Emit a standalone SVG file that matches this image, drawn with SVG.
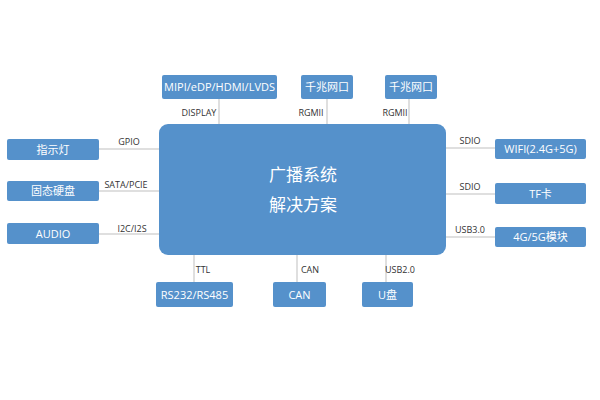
<svg xmlns="http://www.w3.org/2000/svg" width="600" height="400" viewBox="0 0 600 400">
<style>
.box{fill:#5591CB;}
.bt{font-family:"Open Sans","Noto Sans","Noto Sans CJK SC",sans-serif;font-size:11px;fill:#ffffff;text-anchor:middle;}
.lbl{font-family:"Open Sans","Noto Sans",sans-serif;font-size:9px;fill:#333333;text-anchor:middle;}
.ln{stroke:#d4d4d4;stroke-width:1.5;fill:none;}
.mt{font-family:"Noto Sans CJK SC",sans-serif;font-size:17px;fill:#ffffff;text-anchor:middle;}
</style>
<rect width="600" height="400" fill="#ffffff"/>
<g id="connectors">
<line class="ln" x1="219" y1="99" x2="219" y2="124"/>
<line class="ln" x1="327" y1="99" x2="327" y2="124"/>
<line class="ln" x1="409" y1="99" x2="409" y2="124"/>
<line class="ln" x1="99" y1="149" x2="159" y2="149"/>
<line class="ln" x1="99" y1="191" x2="159" y2="191"/>
<line class="ln" x1="99" y1="234" x2="159" y2="234"/>
<line class="ln" x1="446" y1="148" x2="495" y2="148"/>
<line class="ln" x1="446" y1="194" x2="495" y2="194"/>
<line class="ln" x1="446" y1="237" x2="495" y2="237"/>
<line class="ln" x1="194" y1="255" x2="194" y2="282"/>
<line class="ln" x1="297" y1="255" x2="297" y2="282"/>
<line class="ln" x1="386" y1="255" x2="386" y2="282"/>
<text class="lbl" x="199" y="116">DISPLAY</text>
<text class="lbl" x="311" y="116">RGMII</text>
<text class="lbl" x="395" y="116">RGMII</text>
<text class="lbl" x="129" y="145">GPIO</text>
<text class="lbl" x="126" y="188">SATA/PCIE</text>
<text class="lbl" x="132" y="232">I2C/I2S</text>
<text class="lbl" x="470" y="144">SDIO</text>
<text class="lbl" x="470" y="190">SDIO</text>
<text class="lbl" x="470" y="233">USB3.0</text>
<text class="lbl" x="203" y="273">TTL</text>
<text class="lbl" x="310" y="273">CAN</text>
<text class="lbl" x="400" y="273">USB2.0</text>
</g>
<g id="main">
<rect class="box" x="159" y="124" width="287" height="131" rx="9"/>
<text class="mt" x="303" y="181">广播系统</text>
<text class="mt" x="303" y="211">解决方案</text>
</g>
<g id="display"><rect class="box" x="162" y="75" width="115" height="24" rx="2"/><text class="bt" x="219.5" y="91">MIPI/eDP/HDMI/LVDS</text></g>
<g id="eth1"><rect class="box" x="301" y="75" width="52" height="24" rx="2"/><text class="bt" x="327" y="91">千兆网口</text></g>
<g id="eth2"><rect class="box" x="385" y="75" width="52" height="24" rx="2"/><text class="bt" x="411" y="91">千兆网口</text></g>
<g id="led"><rect class="box" x="7" y="139" width="92" height="21" rx="2"/><text class="bt" x="53" y="153.5">指示灯</text></g>
<g id="ssd"><rect class="box" x="7" y="181" width="92" height="20" rx="2"/><text class="bt" x="53" y="195">固态硬盘</text></g>
<g id="audio"><rect class="box" x="7" y="223" width="92" height="21" rx="2"/><text class="bt" x="53" y="237.5">AUDIO</text></g>
<g id="wifi"><rect class="box" x="495" y="139" width="91" height="20" rx="2"/><text class="bt" x="540.5" y="153">WIFI(2.4G+5G)</text></g>
<g id="tf"><rect class="box" x="495" y="183" width="91" height="21" rx="2"/><text class="bt" x="540.5" y="197.5">TF卡</text></g>
<g id="lte"><rect class="box" x="495" y="227" width="91" height="20" rx="2"/><text class="bt" x="540.5" y="241">4G/5G模块</text></g>
<g id="rs"><rect class="box" x="156" y="282" width="77" height="25" rx="2"/><text class="bt" x="194.5" y="298.5">RS232/RS485</text></g>
<g id="can"><rect class="box" x="273" y="282" width="53" height="25" rx="2"/><text class="bt" x="299.5" y="298.5">CAN</text></g>
<g id="udisk"><rect class="box" x="362" y="282" width="51" height="25" rx="2"/><text class="bt" x="387.5" y="298.5">U盘</text></g>
</svg>
